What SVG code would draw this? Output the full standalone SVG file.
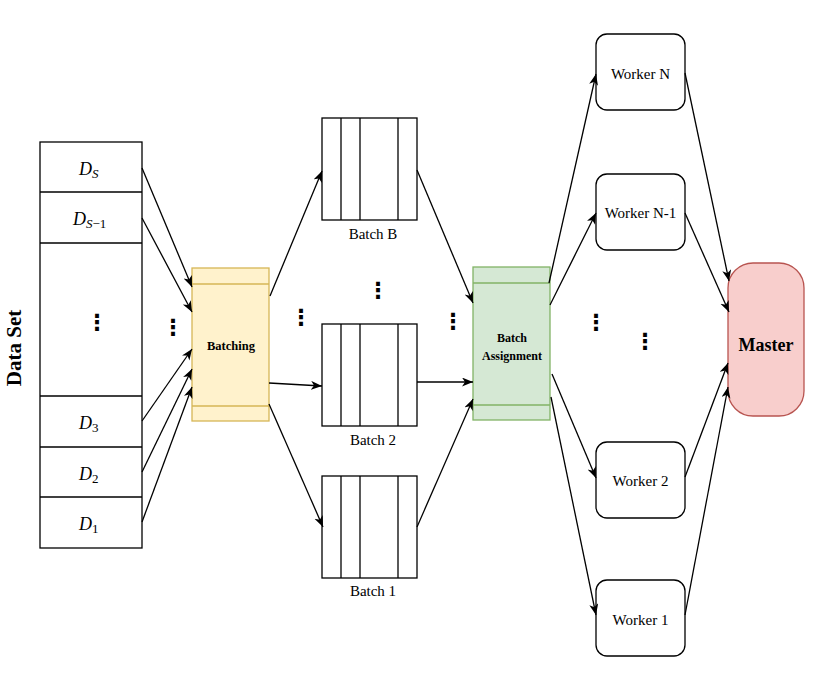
<svg xmlns="http://www.w3.org/2000/svg" width="830" height="689" viewBox="0 0 830 689">
<defs>
<marker id="arr" markerUnits="userSpaceOnUse" markerWidth="12" markerHeight="10" refX="11" refY="4.5" orient="auto">
<path d="M0,0 L11,4.5 L0,9 L3,4.5 z" fill="#000"/>
</marker>
<style>
.box{fill:#fff;stroke:#000;stroke-width:1.3}
.ln{stroke:#000;stroke-width:1.3;fill:none}
.cn{stroke:#000;stroke-width:1.3;fill:none;marker-end:url(#arr)}
</style>
</defs>
<rect width="830" height="689" fill="#fff"/>

<g id="dataset" font-family="'Liberation Serif','Times New Roman',serif">
<text font-weight="bold" font-size="21" text-anchor="middle" transform="translate(21,348) rotate(-90)">Data Set</text>
<rect class="box" x="40" y="142" width="102" height="406"/>
<line class="ln" x1="40" y1="192" x2="142" y2="192"/>
<line class="ln" x1="40" y1="243" x2="142" y2="243"/>
<line class="ln" x1="40" y1="396" x2="142" y2="396"/>
<line class="ln" x1="40" y1="447" x2="142" y2="447"/>
<line class="ln" x1="40" y1="497" x2="142" y2="497"/>
<g font-style="italic" font-size="18">
<text x="79" y="175">D<tspan font-size="13" dy="3">S</tspan></text>
<text x="73" y="225">D<tspan font-size="13" dy="3">S</tspan><tspan font-size="13" font-style="normal">−1</tspan></text>
<text x="79" y="429">D<tspan font-size="13" dy="3" font-style="normal">3</tspan></text>
<text x="79" y="480">D<tspan font-size="13" dy="3" font-style="normal">2</tspan></text>
<text x="79" y="530">D<tspan font-size="13" dy="3" font-style="normal">1</tspan></text>
</g>
<text font-family="'DejaVu Sans',sans-serif" font-weight="bold" font-size="22" text-anchor="middle" x="97" y="330">⋮</text>
</g>

<g id="batching" font-family="'Liberation Serif','Times New Roman',serif">
<rect x="192" y="268" width="77" height="153" fill="#fff2cc" stroke="#d6b656" stroke-width="1.3"/>
<line x1="192" y1="284" x2="269" y2="284" stroke="#d6b656" stroke-width="1.3"/>
<line x1="192" y1="406" x2="269" y2="406" stroke="#d6b656" stroke-width="1.3"/>
<text font-weight="bold" font-size="12.5" text-anchor="middle" x="231" y="350">Batching</text>
</g>

<g id="batchB" font-family="'Liberation Serif','Times New Roman',serif" font-size="15" text-anchor="middle">
<rect class="box" x="322" y="118" width="95" height="102"/>
<line class="ln" x1="341" y1="118" x2="341" y2="220"/>
<line class="ln" x1="360" y1="118" x2="360" y2="220"/>
<line class="ln" x1="398" y1="118" x2="398" y2="220"/>
<text x="373" y="239">Batch B</text>
</g>
<g id="batch2" font-family="'Liberation Serif','Times New Roman',serif" font-size="15" text-anchor="middle">
<rect class="box" x="322" y="324" width="95" height="102"/>
<line class="ln" x1="341" y1="324" x2="341" y2="426"/>
<line class="ln" x1="360" y1="324" x2="360" y2="426"/>
<line class="ln" x1="398" y1="324" x2="398" y2="426"/>
<text x="373" y="445">Batch 2</text>
</g>
<g id="batch1" font-family="'Liberation Serif','Times New Roman',serif" font-size="15" text-anchor="middle">
<rect class="box" x="322" y="476" width="95" height="102"/>
<line class="ln" x1="341" y1="476" x2="341" y2="578"/>
<line class="ln" x1="360" y1="476" x2="360" y2="578"/>
<line class="ln" x1="398" y1="476" x2="398" y2="578"/>
<text x="373" y="596">Batch 1</text>
</g>

<g id="assignment" font-family="'Liberation Serif','Times New Roman',serif" font-weight="bold" font-size="12" text-anchor="middle">
<rect x="473" y="267" width="77" height="153" fill="#d5e8d4" stroke="#82b366" stroke-width="1.3"/>
<line x1="473" y1="283" x2="550" y2="283" stroke="#82b366" stroke-width="1.3"/>
<line x1="473" y1="405" x2="550" y2="405" stroke="#82b366" stroke-width="1.3"/>
<text x="512" y="342">Batch</text>
<text x="512" y="360">Assignment</text>
</g>

<g id="workerN" font-family="'Liberation Serif','Times New Roman',serif" font-size="15" text-anchor="middle">
<rect class="box" x="596" y="34" width="89" height="76" rx="11"/>
<text x="640.5" y="79">Worker N</text>
</g>
<g id="workerN1" font-family="'Liberation Serif','Times New Roman',serif" font-size="15" text-anchor="middle">
<rect class="box" x="596" y="174" width="89" height="76" rx="11"/>
<text x="640.5" y="218">Worker N-1</text>
</g>
<g id="worker2" font-family="'Liberation Serif','Times New Roman',serif" font-size="15" text-anchor="middle">
<rect class="box" x="596" y="442" width="89" height="76" rx="11"/>
<text x="640.5" y="486">Worker 2</text>
</g>
<g id="worker1" font-family="'Liberation Serif','Times New Roman',serif" font-size="15" text-anchor="middle">
<rect class="box" x="596" y="580" width="89" height="76" rx="11"/>
<text x="640.5" y="625">Worker 1</text>
</g>

<g id="master" font-family="'Liberation Serif','Times New Roman',serif">
<rect x="728" y="263" width="76" height="153" rx="25" fill="#f8cecc" stroke="#b85450" stroke-width="1.3"/>
<text font-weight="bold" font-size="18" text-anchor="middle" x="766" y="351">Master</text>
</g>

<g id="ellipses" font-family="'DejaVu Sans',sans-serif" font-weight="bold" font-size="22" text-anchor="middle">
<text x="173" y="335">⋮</text>
<text x="301" y="325">⋮</text>
<text x="378" y="298">⋮</text>
<text x="453" y="329">⋮</text>
<text x="596" y="330">⋮</text>
<text x="645" y="349">⋮</text>
</g>

<g id="connectors">
<line class="cn" x1="142" y1="168" x2="192" y2="287"/>
<line class="cn" x1="142" y1="218" x2="192" y2="312"/>
<line class="cn" x1="142" y1="421" x2="192" y2="349"/>
<line class="cn" x1="142" y1="472" x2="192" y2="369"/>
<line class="cn" x1="142" y1="522" x2="192" y2="387"/>
<line class="cn" x1="270" y1="296" x2="322" y2="171"/>
<line class="cn" x1="269" y1="383" x2="322" y2="386"/>
<line class="cn" x1="269" y1="404" x2="323" y2="527"/>
<line class="cn" x1="417" y1="170" x2="473" y2="303"/>
<line class="cn" x1="417" y1="382" x2="473" y2="382"/>
<line class="cn" x1="417" y1="527" x2="473" y2="399"/>
<line class="cn" x1="549" y1="283" x2="596" y2="74"/>
<line class="cn" x1="550" y1="305" x2="596" y2="213"/>
<line class="cn" x1="552" y1="374" x2="596" y2="478"/>
<line class="cn" x1="551" y1="397" x2="596" y2="615"/>
<line class="cn" x1="685" y1="73" x2="729" y2="281"/>
<line class="cn" x1="685" y1="213" x2="729" y2="312"/>
<line class="cn" x1="685" y1="477" x2="728" y2="363"/>
<line class="cn" x1="685" y1="615" x2="728" y2="387"/>
</g>
</svg>
